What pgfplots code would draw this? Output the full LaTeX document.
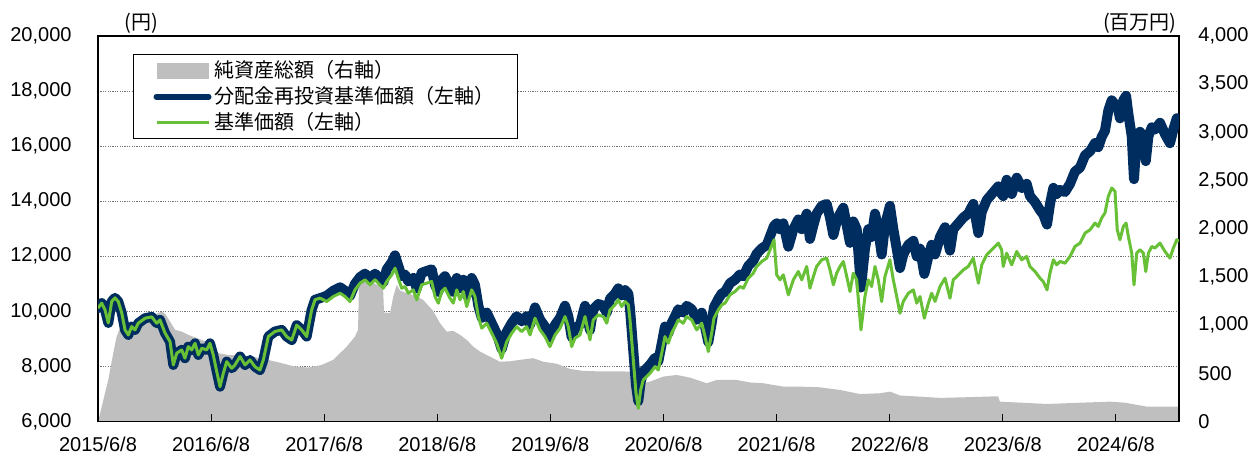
\documentclass[border=0pt]{standalone}
\usepackage{fontspec}
\setmainfont{Liberation Sans}
\newfontfamily\jp{Noto Sans CJK JP}
\usepackage{pgfplots}
\usepackage{pgfplotstable}
\pgfplotsset{compat=1.18}
\definecolor{navy}{RGB}{0,45,95}
\definecolor{lgreen}{RGB}{103,192,53}
\definecolor{areagray}{RGB}{191,191,191}

% green: NAV (left axis), t = years since 2015/6/8
\pgfplotstableread{
t v
0.000 10116
0.033 10300
0.062 10054
0.091 9580
0.121 10360
0.150 10490
0.179 10360
0.210 9945
0.239 9327
0.268 9145
0.298 9447
0.327 9327
0.356 9570
0.416 9750
0.475 9800
0.519 9570
0.548 9690
0.592 9220
0.637 8900
0.666 8054
0.696 8480
0.740 8600
0.769 8298
0.798 8720
0.828 8600
0.858 8840
0.887 8418
0.917 8660
0.961 8600
0.990 8840
1.019 8420
1.050 7810
1.079 7265
1.108 7752
1.138 8175
1.182 7934
1.211 8054
1.256 8360
1.300 8054
1.344 8236
1.388 7990
1.432 7870
1.462 8236
1.506 9085
1.565 9270
1.624 9327
1.668 9085
1.713 8960
1.757 9500
1.801 9327
1.845 9085
1.889 10054
1.919 10420
1.963 10480
2.022 10357
2.080 10538
2.140 10660
2.184 10538
2.228 10357
2.272 10781
2.317 11024
2.361 11145
2.405 10963
2.449 11145
2.493 10963
2.523 10842
2.553 11084
2.597 11327
2.626 11570
2.655 11206
2.685 10842
2.714 10902
2.744 10660
2.788 10781
2.818 10418
2.862 10963
2.906 11024
2.950 11084
2.980 10538
3.009 10298
3.039 10720
3.068 10842
3.112 10480
3.141 10298
3.172 10781
3.201 10418
3.230 10720
3.260 10175
3.304 10781
3.333 10538
3.363 9811
3.393 9390
3.437 9570
3.481 9207
3.525 8843
3.569 8298
3.614 8902
3.658 9207
3.702 9447
3.746 9266
3.790 9447
3.820 9145
3.864 9752
3.908 9327
3.952 9085
3.996 8721
4.041 9145
4.085 9387
4.129 9811
4.158 9447
4.188 8721
4.217 9024
4.262 9145
4.306 9811
4.350 8963
4.379 9690
4.424 9872
4.468 9811
4.498 9570
4.527 10054
4.571 10236
4.600 10418
4.630 10175
4.660 10357
4.689 10236
4.704 9690
4.733 8236
4.757 7025
4.777 6480
4.798 7145
4.821 7509
4.851 7630
4.881 7752
4.925 7993
4.954 7870
4.984 8478
5.013 9085
5.042 8843
5.072 9207
5.102 9447
5.131 9690
5.175 9570
5.205 9811
5.249 9690
5.294 9327
5.338 9570
5.367 9085
5.396 8540
5.426 9207
5.446 9752
5.485 10054
5.515 10236
5.544 10300
5.588 10600
5.632 10720
5.676 10902
5.706 10840
5.750 11206
5.794 11387
5.824 11630
5.868 11812
5.913 11933
5.942 12236
5.977 12600
6.001 11327
6.030 11145
6.059 11327
6.104 10600
6.148 11145
6.192 11448
6.222 11145
6.266 11630
6.295 10842
6.325 11266
6.354 11630
6.399 11873
6.443 11933
6.472 11509
6.502 10963
6.531 11387
6.561 11630
6.590 11812
6.620 11266
6.649 10720
6.678 11387
6.708 11145
6.746 9327
6.781 10538
6.811 11145
6.840 10902
6.870 11630
6.899 11145
6.929 10357
6.958 11266
7.002 11873
7.032 11145
7.062 10538
7.091 9934
7.120 10357
7.165 10660
7.209 10781
7.239 10298
7.268 10540
7.306 9752
7.342 10298
7.371 10660
7.401 10360
7.445 10902
7.489 11206
7.533 10479
7.562 11145
7.607 11327
7.651 11509
7.695 11630
7.739 11933
7.784 11024
7.814 11690
7.858 12054
7.916 12297
7.960 12479
7.990 12236
8.004 11630
8.034 12115
8.079 11690
8.123 12175
8.167 11873
8.211 11993
8.240 11630
8.285 11448
8.329 11206
8.358 11080
8.391 10781
8.417 11387
8.447 11873
8.476 11690
8.506 11812
8.550 11750
8.594 11993
8.638 12357
8.683 12479
8.727 12842
8.771 12963
8.815 13206
8.844 13085
8.874 13388
8.903 13570
8.933 14175
8.963 14479
8.992 14357
9.012 12963
9.036 12600
9.066 13085
9.090 13206
9.110 12721
9.140 12115
9.160 10963
9.184 12115
9.213 12236
9.243 12115
9.264 11448
9.287 12115
9.317 12357
9.346 12300
9.390 12479
9.434 12175
9.478 11933
9.508 12300
9.538 12600
9.558 12540
}\greent

% navy: NAV with dividends reinvested (left axis)
\pgfplotstableread{
t v
0.000 10116
0.033 10300
0.062 10054
0.091 9580
0.121 10360
0.150 10490
0.179 10360
0.210 9945
0.239 9327
0.268 9145
0.298 9447
0.327 9327
0.356 9570
0.416 9750
0.475 9800
0.519 9570
0.548 9690
0.592 9220
0.637 8900
0.666 8054
0.696 8480
0.740 8600
0.769 8298
0.798 8720
0.828 8600
0.858 8840
0.887 8418
0.917 8660
0.961 8600
0.990 8840
1.019 8420
1.050 7810
1.079 7265
1.108 7752
1.138 8175
1.182 7934
1.211 8054
1.256 8360
1.300 8054
1.344 8236
1.388 7990
1.432 7870
1.462 8236
1.506 9085
1.565 9270
1.624 9327
1.668 9085
1.713 8960
1.757 9500
1.801 9327
1.845 9085
1.889 10054
1.919 10420
1.963 10480
2.022 10564
2.080 10749
2.140 10873
2.184 10749
2.228 10564
2.272 10997
2.317 11244
2.361 11368
2.405 11182
2.449 11368
2.493 11182
2.523 11059
2.553 11527
2.597 11780
2.626 12033
2.655 11654
2.685 11276
2.714 11338
2.744 11086
2.788 11212
2.818 10835
2.862 11402
2.906 11465
2.950 11527
2.980 10960
3.009 10710
3.039 11149
3.068 11276
3.112 10899
3.141 10710
3.172 11212
3.201 10835
3.230 11149
3.260 10582
3.304 11212
3.333 10960
3.363 10203
3.393 9766
3.437 9953
3.481 9575
3.525 9197
3.569 8630
3.614 9258
3.658 9575
3.702 9825
3.746 9637
3.790 9825
3.820 9511
3.864 10142
3.908 9700
3.952 9448
3.996 9070
4.041 9511
4.085 9762
4.129 10203
4.158 9825
4.188 9070
4.217 9385
4.262 9511
4.306 10203
4.350 9322
4.379 10078
4.424 10267
4.468 10203
4.498 9953
4.527 10456
4.571 10645
4.600 10835
4.630 10582
4.660 10771
4.689 10645
4.704 10078
4.733 8565
4.757 7306
4.777 6739
4.798 7431
4.821 7809
4.851 7935
4.881 8062
4.925 8313
4.954 8185
4.984 8817
5.013 9448
5.042 9197
5.072 9575
5.102 9825
5.131 10078
5.175 9953
5.205 10203
5.249 10078
5.294 9700
5.338 9953
5.367 9448
5.396 8882
5.426 9575
5.446 10142
5.485 10456
5.515 10645
5.544 10712
5.588 11024
5.632 11149
5.676 11338
5.706 11274
5.750 11654
5.794 11842
5.824 12095
5.868 12284
5.913 12410
5.942 12725
5.977 13104
6.001 13196
6.030 12984
6.059 13196
6.104 12349
6.148 12984
6.192 13337
6.222 12984
6.266 13549
6.295 12631
6.325 13125
6.354 13549
6.399 13832
6.443 13902
6.472 13408
6.502 12772
6.531 13266
6.561 13549
6.590 13761
6.620 13125
6.649 12489
6.678 13266
6.708 12984
6.746 10866
6.781 12277
6.811 12984
6.840 12701
6.870 13549
6.899 12984
6.929 12066
6.958 13125
7.002 13832
7.032 12984
7.062 12277
7.091 11573
7.120 12066
7.165 12419
7.209 12560
7.239 11997
7.268 12279
7.306 11361
7.342 11997
7.371 12419
7.401 12069
7.445 12701
7.489 13055
7.533 12208
7.562 12984
7.607 13196
7.651 13408
7.695 13549
7.739 13902
7.784 12843
7.814 13619
7.858 14043
7.916 14326
7.960 14538
7.990 14255
8.004 14189
8.034 14780
8.079 14262
8.123 14854
8.167 14485
8.211 14631
8.240 14189
8.285 13967
8.329 13671
8.358 13518
8.391 13153
8.417 13892
8.447 14485
8.476 14262
8.506 14411
8.550 14335
8.594 14631
8.638 15076
8.683 15224
8.727 15667
8.771 15815
8.815 16111
8.844 15964
8.874 16333
8.903 16555
8.933 17294
8.963 17664
8.992 17516
9.012 17500
9.036 17010
9.066 17665
9.090 17828
9.110 17173
9.140 16355
9.160 14800
9.184 16355
9.213 16519
9.243 16355
9.264 15455
9.287 16355
9.317 16682
9.346 16605
9.390 16847
9.434 16436
9.478 16110
9.508 16605
9.538 17010
9.558 16929
}\navyt

% gray: net assets (right axis, million yen)
\pgfplotstableread{
t v
0.000 0
0.018 80
0.047 223
0.091 431
0.135 711
0.165 881
0.195 971
0.283 1010
0.371 1050
0.460 1090
0.563 1141
0.592 1120
0.637 1037
0.681 951
0.740 933
0.798 899
0.917 847
0.990 812
1.064 709
1.152 690
1.240 690
1.359 675
1.506 639
1.624 605
1.742 570
1.859 560
1.978 587
2.080 640
2.199 777
2.272 881
2.299 951
2.308 1420
2.376 1470
2.464 1420
2.520 1400
2.529 1130
2.582 1127
2.611 1297
2.641 1418
2.670 1360
2.729 1332
2.818 1300
2.874 1262
2.962 1150
3.024 1020
3.083 933
3.141 940
3.201 899
3.260 847
3.318 777
3.378 725
3.466 673
3.554 620
3.643 625
3.731 640
3.849 657
3.937 620
4.056 600
4.173 545
4.291 525
4.439 520
4.586 520
4.719 518
4.739 380
4.766 300
4.821 397
4.881 414
4.998 466
5.117 483
5.235 455
5.382 397
5.470 431
5.647 431
5.765 405
5.882 397
6.059 362
6.207 362
6.384 355
6.561 327
6.738 285
6.914 293
7.003 310
7.091 270
7.268 258
7.445 245
7.681 252
7.958 262
7.975 206
8.152 196
8.391 182
8.683 195
8.948 206
9.081 195
9.275 154
9.558 154
}\grayt

\pgfplotsset{
  base/.style={
    scale only axis, width=540.5pt, height=192.75pt,
    xmin=0, xmax=9.558,
    scaled x ticks=false, scaled y ticks=false,
    /pgf/number format/1000 sep={,},
    /pgf/number format/assume math mode=true,
    tick label style={font=\fontsize{10}{12}\selectfont},
  }
}

\begin{document}
\begin{tikzpicture}
% grid only
\begin{axis}[base, ymin=6000, ymax=20000, ytick={6000,8000,...,20000},
  xtick=\empty, yticklabels={,,,,,,,}, ytick style={draw=none},
  ymajorgrids, major grid style={line width=0.5pt, color=black!55, dash pattern=on 0.6pt off 0.6pt},
  axis line style={draw=none}]
\end{axis}
% right axis: net assets
\begin{axis}[base, ymin=0, ymax=4000, axis y line*=right, axis x line=none,
  ytick={0,500,...,4000}, ytick style={draw=none},
  yticklabel style={xshift=6.2pt}, axis line style={draw=none}]
\addplot[draw=none, fill=areagray] table[x=t, y=v] {\grayt} \closedcycle;
\end{axis}
% left axis: prices
\begin{axis}[base, ymin=6000, ymax=20000, ytick={6000,8000,...,20000},
  ytick style={draw=none}, yticklabel style={xshift=-9.7pt},
  xtick={0,1,...,9},
  xticklabels={2015/6/8,2016/6/8,2017/6/8,2018/6/8,2019/6/8,2020/6/8,2021/6/8,2022/6/8,2023/6/8,2024/6/8},
  xtick pos=left, ytick pos=left, tick align=inside, major tick length=4pt,
  xtick style={black, line width=0.5pt}, xticklabel style={yshift=-4.2pt},
  axis line style={black, line width=0.9pt},
  legend cell align=left,
  legend style={at={(0.0324,0.953)}, anchor=north west, draw=black, line width=0.5pt,
    fill=white, font=\jp\fontsize{10}{12}\selectfont,
    inner xsep=10pt, inner ysep=1.5pt, row sep=0pt, nodes={inner sep=1.5pt}}]
\addlegendimage{fill=areagray, draw=none,
  legend image code/.code={\fill[areagray] (0pt,-4pt) rectangle (26pt,4pt);}}
\addlegendentry{純資産総額（右軸）}
\addplot[navy, line width=5pt, line cap=round, line join=round,
  legend image code/.code={\draw[navy, line width=3pt, line cap=round] (0pt,0pt) -- (26pt,0pt);}]
  table[x=t, y=v] {\navyt};
\addlegendentry{分配金再投資基準価額（左軸）}
\addplot[lgreen, line width=1.5pt, line join=round,
  legend image code/.code={\draw[lgreen, line width=1.5pt] (0pt,0pt) -- (26pt,0pt);}]
  table[x=t, y=v] {\greent};
\addlegendentry{基準価額（左軸）}
\coordinate (SW) at (rel axis cs:0,0);
\coordinate (NE) at (rel axis cs:1,1);
\end{axis}
\path (SW|-NE) ++(21.5pt,6.5pt) node[font=\jp\fontsize{10}{12}\selectfont, inner sep=0pt] {(円)};
\path (NE) ++(-1pt,6.5pt) node[anchor=east, font=\jp\fontsize{10}{12}\selectfont, inner sep=0pt] {(百万円)};
\pgfresetboundingbox
\path[use as bounding box] ([xshift=-49pt,yshift=-17.75pt]SW) rectangle ([xshift=35pt,yshift=18pt]NE);
\end{tikzpicture}
\end{document}
